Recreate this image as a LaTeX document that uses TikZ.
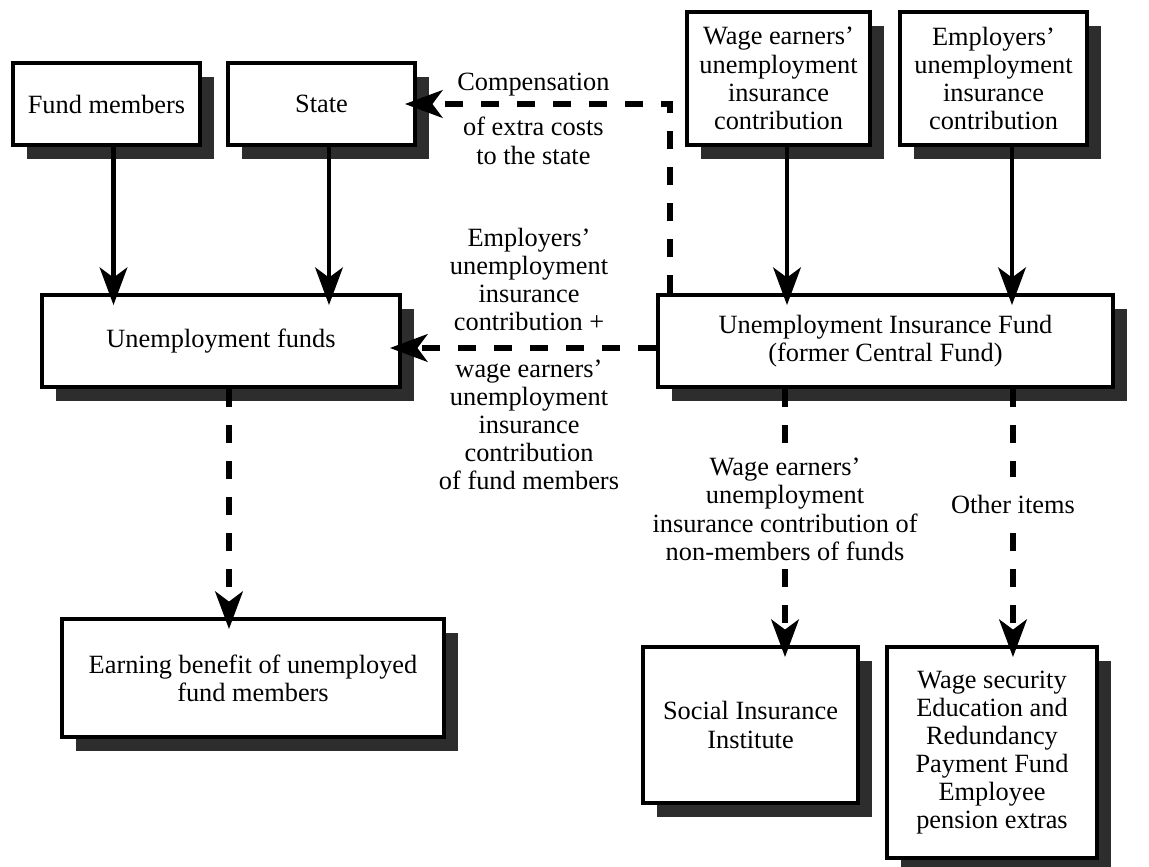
\documentclass[tikz,border=0pt]{standalone}
\usepackage{fontspec}
\setmainfont{Liberation Serif}
\usetikzlibrary{arrows.meta,calc,shadows}
\definecolor{shadegray}{RGB}{45,45,45}

\begin{document}
\begin{tikzpicture}[x=0.02cm,y=-0.02cm,
  fundbox/.style={rectangle,draw=black,fill=white,line width=2.2pt,
                  align=center,inner sep=2pt,
                  font=\fontsize{15}{16}\selectfont,
                  drop shadow={shadow xshift=0.28cm,shadow yshift=-0.28cm,
                               fill=shadegray,opacity=1}},
  payflow/.style={line width=2.8pt,shorten >=-0.24cm,
                  -{Stealth[length=7.5mm,width=5.5mm,inset=2mm]}},
  dashflow/.style={payflow,line width=3.2pt,dash pattern=on 0.36cm off 0.36cm},
  lbl/.style={align=center,font=\fontsize{15}{16}\selectfont,inner sep=2pt}
]
\useasboundingbox (0,0) rectangle (1149,866);
% sources
\node[fundbox,minimum width=3.74cm,minimum height=1.64cm] (fm) at (106.5,104) {Fund members};
\node[fundbox,minimum width=3.74cm,minimum height=1.64cm] (st) at (321.5,104) {State};
\node[fundbox,minimum width=3.66cm,minimum height=2.66cm] (we) at (778.5,78.5)
  {Wage earners'\\unemployment\\insurance\\contribution};
\node[fundbox,minimum width=3.74cm,minimum height=2.66cm] (ep) at (993.5,78.5)
  {Employers'\\unemployment\\insurance\\contribution};
% funds
\node[fundbox,minimum width=7.16cm,minimum height=1.84cm] (uf)  at (221,341) {Unemployment funds};
\node[fundbox,minimum width=9.1cm,minimum height=1.84cm]  (uif) at (885.5,341)
  {Unemployment Insurance Fund\\(former Central Fund)};
% receivers
\node[fundbox,minimum width=7.64cm,minimum height=2.36cm] (eb) at (253,678)
  {Earning benefit of unemployed\\fund members};
\node[fundbox,minimum width=4.3cm,minimum height=3.12cm] (sii) at (750.5,725)
  {Social Insurance\\Institute};
\node[fundbox,minimum width=4.2cm,minimum height=4.22cm] (ws) at (992,752.5)
  {Wage security\\Education and\\Redundancy\\Payment Fund\\Employee\\pension extras};

\draw[payflow] ([xshift=0.14cm]fm.south) -- ([xshift=0.14cm]fm.south |- uf.north);
\draw[payflow] ([xshift=0.15cm]st.south) -- ([xshift=0.15cm]st.south |- uf.north);
\draw[payflow] ([xshift=0.17cm]we.south) -- ([xshift=0.17cm]we.south |- uif.north);
\draw[payflow] ([xshift=0.37cm]ep.south) -- ([xshift=0.37cm]ep.south |- uif.north);

\draw[dashflow] ([xshift=0.28cm]uif.north west) |-
  node[lbl,above=1pt,pos=0.77]{Compensation}
  node[lbl,below=4pt,pos=0.77]{of extra costs\\to the state} (st.east);
\draw[dashflow] ([yshift=-0.14cm]uif.west) --
  node[lbl,above=6pt]{Employers'\\unemployment\\insurance\\contribution +}
  node[lbl,below=3pt]{wage earners'\\unemployment\\insurance\\contribution\\of fund members}
  ([yshift=-0.14cm]uf.east);
\draw[dashflow] ([xshift=0.16cm]uf.south) -- ([xshift=0.16cm]uf.south |- eb.north);
\draw[dashflow] ([xshift=-2.01cm]uif.south) --
  node[lbl,fill=white,pos=0.47]{Wage earners'\\unemployment\\insurance contribution of\\non-members of funds}
  ([xshift=-2.01cm]uif.south |- sii.north);
\draw[dashflow] ([xshift=2.55cm]uif.south) --
  node[lbl,fill=white,inner ysep=10pt,pos=0.45]{Other items}
  ([xshift=2.55cm]uif.south |- ws.north);
\end{tikzpicture}
\end{document}
